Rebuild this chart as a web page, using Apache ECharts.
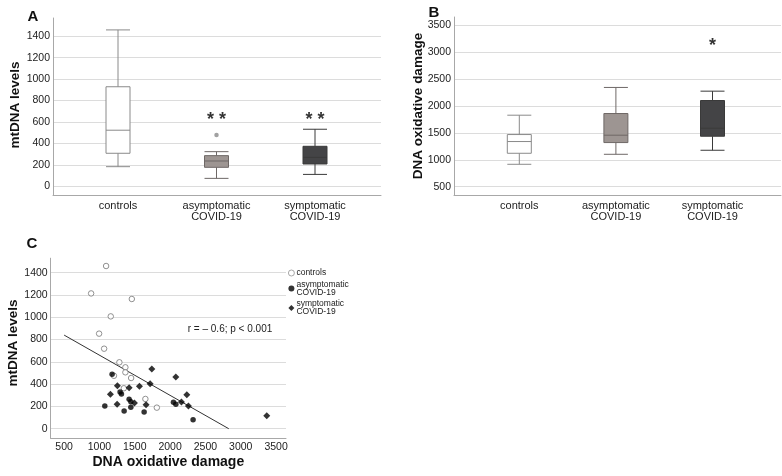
<!DOCTYPE html>
<html>
<head>
<meta charset="utf-8">
<script src="https://cdn.jsdelivr.net/npm/echarts@6/dist/echarts.min.js"></script>
<style>
html,body{margin:0;padding:0;background:#fff;}
#c{width:782px;height:476px;}
</style>
</head>
<body>
<div id="c"></div>
<script>
// ---------- data ----------
const categories = ['controls', 'asymptomatic\nCOVID-19', 'symptomatic\nCOVID-19'];
// [min, Q1, median, Q3, max]
const mtdnaBox = [[184, 309, 524, 929, 1459], [75, 178, 237, 287, 324], [112, 209, 271, 374, 533]];
const mtdnaOutliers = [[1, 480]];
const damageBox = [[916, 1121, 1339, 1469, 1829], [1102, 1320, 1457, 1860, 2345], [1177, 1438, 1587, 2102, 2276]];
const sigA = ['', '**', '**'];
const sigALevel = 615;
const sigB = ['', '', '*'];
const sigBLevel = 3120;
const mtdnaTicks = [0, 200, 400, 600, 800, 1000, 1200, 1400];
const damageTicks = [500, 1000, 1500, 2000, 2500, 3000, 3500];
// panel C: [DNA oxidative damage, mtDNA levels]
const controlsPts = [[1094, 1460], [882, 1214], [1458, 1164], [1160, 1008], [995, 853], [1066, 718], [1282, 596],
  [1367, 551], [1367, 506], [1448, 455], [1345, 363], [1650, 267], [1812, 189], [1205, 475]];
const asymPts = [[1179, 488], [1292, 329], [1311, 311], [1420, 264], [1444, 242], [1076, 204], [1444, 192],
  [1349, 159], [1632, 150], [2325, 81], [2047, 237], [2081, 219]];
const sympPts = [[1741, 536], [2081, 464], [1717, 404], [1254, 386], [1420, 368], [1566, 380], [1155, 309],
  [2236, 305], [1495, 231], [1250, 219], [2160, 240], [2259, 204], [1660, 216], [3368, 117]];
const trendLine = [[500, 840], [2830, 0]];
const corrText = 'r = \u2013 0.6; p < 0.001';
const seriesNames = ['controls', 'asymptomatic\nCOVID-19', 'symptomatic\nCOVID-19'];

// ---------- styles ----------
const FONT = '"Liberation Sans", Arial, sans-serif';
const boxFill = ['#ffffff', '#9d9592', '#444446'];
const boxBorder = ['#8a8a8a', '#6e6866', '#3a3a3a'];
const gridLineColor = '#dcdcdc';
const axisLineColor = '#a8a8a8';
const tickLabel = { fontSize: 10.5, color: '#222', fontFamily: FONT, formatter: v => String(v) };

function frameX(gridIndex) {
  return { type: 'value', gridIndex, min: 0, max: 1, axisLine: { show: true, onZero: false, lineStyle: { color: axisLineColor } },
    axisTick: { show: false }, axisLabel: { show: false }, splitLine: { show: false } };
}
function frameY(gridIndex, min, max, ticks) {
  return { type: 'value', gridIndex, min, max,
    axisLine: { show: true, onZero: false, lineStyle: { color: axisLineColor } },
    axisTick: { show: false, customValues: ticks },
    axisLabel: Object.assign({ margin: 3, customValues: ticks }, tickLabel),
    splitLine: { show: true, lineStyle: { color: gridLineColor, width: 1.2 } } };
}
function catX(gridIndex) {
  return { type: 'category', gridIndex, data: categories,
    axisLine: { show: false }, axisTick: { show: false },
    axisLabel: { fontSize: 11, color: '#222', fontFamily: FONT, lineHeight: 11, margin: 5, interval: 0 },
    splitLine: { show: false } };
}
function hiddenY(gridIndex, min, max) {
  return { type: 'value', gridIndex, min, max, show: false, splitLine: { show: false } };
}
function boxData(arr) {
  return arr.map((v, i) => ({ value: v, itemStyle: { color: boxFill[i], borderColor: boxBorder[i], borderWidth: 1 } }));
}
function sigData(labels, level) {
  const out = [];
  labels.forEach((s, i) => { if (s) out.push([i, level, s.split('').join(' ')]); });
  return out;
}
const sigLabel = { show: true, position: 'inside', formatter: p => p.value[2], fontSize: 18, fontWeight: 'bold', color: '#000', fontFamily: FONT };

const option = {
  animation: false,
  backgroundColor: '#fff',
  textStyle: { fontFamily: FONT },
  grid: [
    { left: 53, top: 18, width: 328, height: 177, outerBoundsMode: 'none' },
    { left: 68.75, top: 18, width: 295.5, height: 177, outerBoundsMode: 'none' },
    { left: 454, top: 17, width: 327, height: 178, outerBoundsMode: 'none' },
    { left: 471, top: 17, width: 289.8, height: 178, outerBoundsMode: 'none' },
    { left: 50.7, top: 258.2, width: 235.3, height: 180.1, outerBoundsMode: 'none' }
  ],
  xAxis: [
    frameX(0), catX(1), frameX(2), catX(3),
    { type: 'value', gridIndex: 4, min: 310, max: 3640,
      axisLine: { show: true, onZero: false, lineStyle: { color: axisLineColor } },
      axisTick: { show: false, customValues: damageTicks },
      axisLabel: Object.assign({ margin: 3, customValues: damageTicks }, tickLabel),
      splitLine: { show: false },
      name: 'DNA oxidative damage', nameLocation: 'middle', nameGap: 17,
      nameTextStyle: { fontSize: 14, fontWeight: 'bold', color: '#111', fontFamily: FONT } }
  ],
  yAxis: [
    frameY(0, -80, 1570, mtdnaTicks), hiddenY(1, -80, 1570),
    frameY(2, 345, 3655, damageTicks), hiddenY(3, 345, 3655),
    frameY(4, -86, 1530, mtdnaTicks)
  ],
  legend: {
    data: [
      { name: seriesNames[0], itemStyle: { color: '#fff', borderColor: '#777', borderWidth: 0.8 } },
      { name: seriesNames[1] },
      { name: seriesNames[2] }
    ],
    orient: 'vertical', left: 288, top: 268.5, padding: 0,
    itemWidth: 6, itemHeight: 6, itemGap: 2.5,
    textStyle: { fontSize: 8.5, lineHeight: 8, color: '#222', fontFamily: FONT, padding: [0, 0, 0, -3] },
    selectedMode: false
  },
  graphic: [
    { type: 'text', x: 33, y: 17, style: { text: 'A', font: 'bold 15px ' + FONT, fill: '#111', align: 'center', verticalAlign: 'middle' } },
    { type: 'text', x: 434, y: 13, style: { text: 'B', font: 'bold 15px ' + FONT, fill: '#111', align: 'center', verticalAlign: 'middle' } },
    { type: 'text', x: 32, y: 244, style: { text: 'C', font: 'bold 15px ' + FONT, fill: '#111', align: 'center', verticalAlign: 'middle' } },
    { type: 'text', x: 15, y: 105, rotation: Math.PI / 2, style: { text: 'mtDNA levels', font: 'bold 13.5px ' + FONT, fill: '#111', align: 'center', verticalAlign: 'middle' } },
    { type: 'text', x: 418, y: 106, rotation: Math.PI / 2, style: { text: 'DNA oxidative damage', font: 'bold 13.5px ' + FONT, fill: '#111', align: 'center', verticalAlign: 'middle' } },
    { type: 'text', x: 13, y: 343, rotation: Math.PI / 2, style: { text: 'mtDNA levels', font: 'bold 13.5px ' + FONT, fill: '#111', align: 'center', verticalAlign: 'middle' } },
    { type: 'text', x: 230, y: 329, style: { text: corrText, font: '10px ' + FONT, fill: '#222', align: 'center', verticalAlign: 'middle' } }
  ],
  series: [
    { type: 'boxplot', xAxisIndex: 1, yAxisIndex: 1, boxWidth: [24, 24], data: boxData(mtdnaBox) },
    { type: 'scatter', xAxisIndex: 1, yAxisIndex: 1, symbol: 'circle', symbolSize: 4.5,
      itemStyle: { color: '#8a8a8a' }, data: mtdnaOutliers },
    { type: 'scatter', xAxisIndex: 1, yAxisIndex: 1, symbolSize: 0, data: sigData(sigA, sigALevel), label: sigLabel },
    { type: 'boxplot', xAxisIndex: 3, yAxisIndex: 3, boxWidth: [24, 24], data: boxData(damageBox) },
    { type: 'scatter', xAxisIndex: 3, yAxisIndex: 3, symbolSize: 0, data: sigData(sigB, sigBLevel), label: sigLabel },
    { type: 'line', xAxisIndex: 4, yAxisIndex: 4, data: trendLine, showSymbol: false, symbol: 'none',
      lineStyle: { color: '#333', width: 1 }, z: 1 },
    { name: seriesNames[0], type: 'scatter', xAxisIndex: 4, yAxisIndex: 4, symbol: 'circle', symbolSize: 5.5,
      itemStyle: { color: '#fff', borderColor: '#777', borderWidth: 1 }, data: controlsPts, z: 3 },
    { name: seriesNames[1], type: 'scatter', xAxisIndex: 4, yAxisIndex: 4, symbol: 'circle', symbolSize: 5.5,
      itemStyle: { color: '#000' }, data: asymPts, z: 4 },
    { name: seriesNames[2], type: 'scatter', xAxisIndex: 4, yAxisIndex: 4, symbol: 'diamond', symbolSize: 7,
      itemStyle: { color: '#000' }, data: sympPts, z: 4 }
  ]
};
const chart = echarts.init(document.getElementById('c'), null, { renderer: 'canvas' });
chart.setOption(option);
</script>
</body>
</html>
